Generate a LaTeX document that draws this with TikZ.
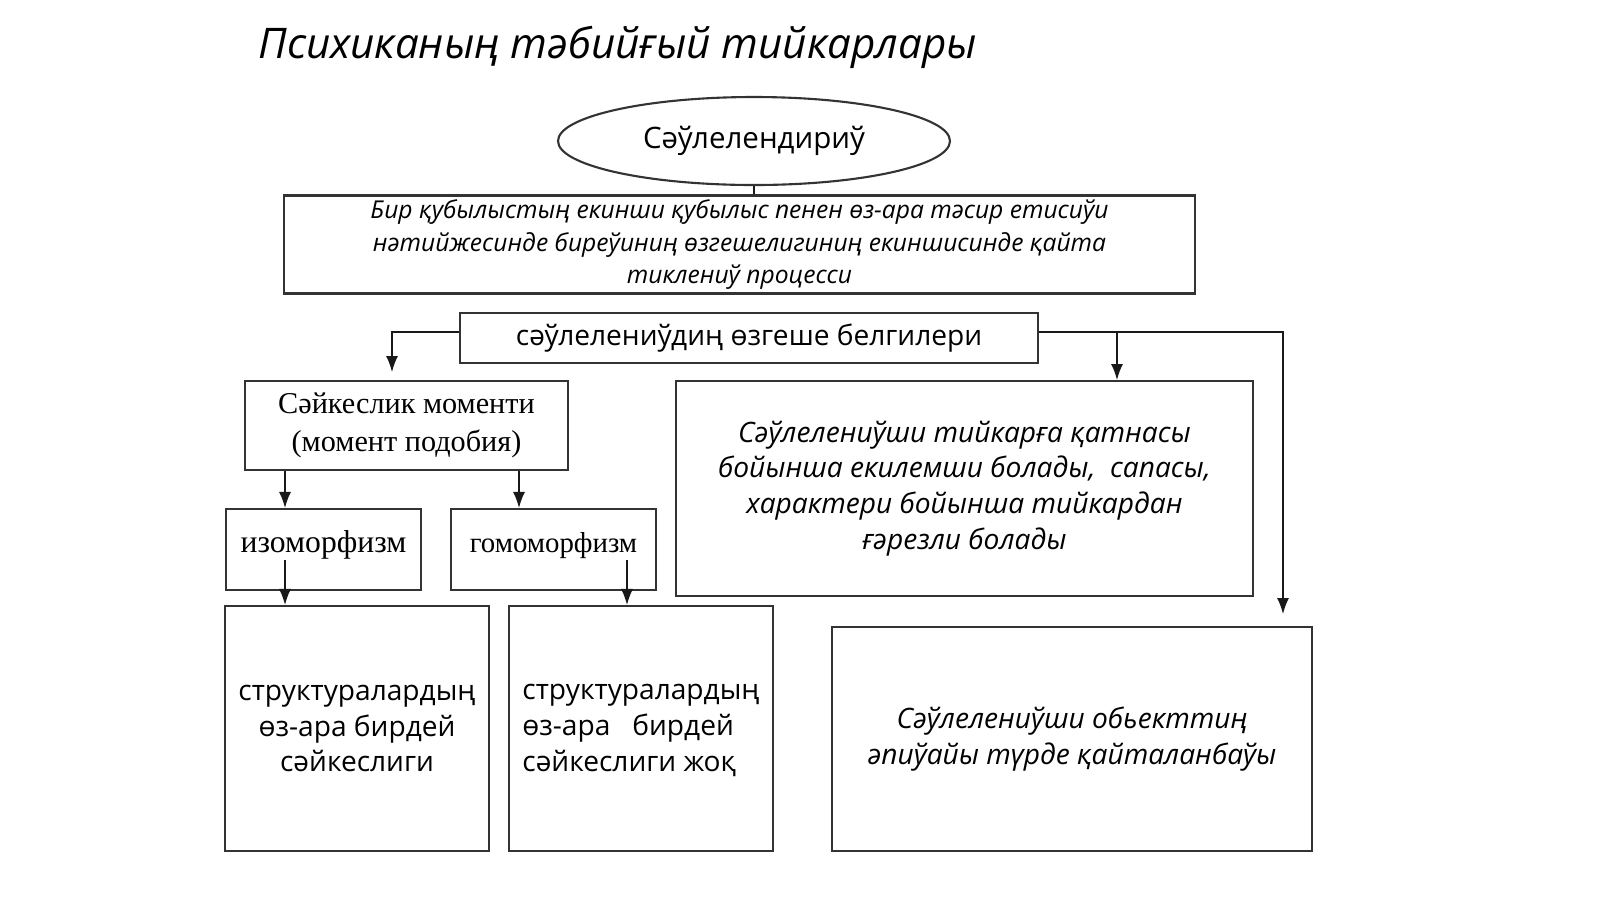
\documentclass[tikz,border=0pt]{standalone}
\usepackage{fontspec}
\setmainfont{Open Sans}
\newfontfamily\serif{Liberation Serif}
\usetikzlibrary{shapes.geometric,arrows.meta}
\tikzset{
  box/.style={draw, semithick, black!80, text=black, rectangle, inner sep=0pt, align=center},
  arr/.style={-{Latex[length=1.6mm,width=1.2mm]}, black!90},
  lin/.style={black!90}
}
\begin{document}
\begin{tikzpicture}[x=0.1mm, y=-0.1mm]
    \useasboundingbox (0,0) rectangle (1600,899);

    \node[anchor=west, font=\fontsize{12}{14}\selectfont\itshape] (title) at (246,47) {Психиканың тәбийғый тийкарлары};

    \node[ellipse, draw, semithick, black!80, text=black, minimum width=39.2mm, minimum height=8.8mm, font=\fontsize{8.4}{10}\selectfont] (ell) at (754,141) {Сәўлелендириў};

    \node[box, minimum width=91.1mm, minimum height=9.7mm, font=\fontsize{7}{9.3}\selectfont\itshape] (def) at (739.5,244.5)
        {\raisebox{-0.8mm}{\begin{tabular}{@{}c@{}}Бир қубылыстың екинши қубылыс пенен өз-ара тәсир етисиўи\\нәтийжесинде биреўиниң өзгешелигиниң екиншисинде қайта\\тиклениў процесси\end{tabular}}};

    \node[box, minimum width=57.8mm, minimum height=5mm, font=\fontsize{8}{10}\selectfont] (sign) at (749,338) {сәўлелениўдиң өзгеше белгилери};

    \node[box, minimum width=32.3mm, minimum height=8.9mm, font=\serif\fontsize{8.6}{11}\selectfont] (mom) at (406.5,425.5) {Сәйкеслик моменти\\(момент подобия)};

    \node[box, minimum width=19.5mm, minimum height=8.1mm, font=\serif\fontsize{9}{11}\selectfont] (iso) at (323.5,549.5) {\raisebox{1.5mm}{изоморфизм}};
    \node[box, minimum width=20.5mm, minimum height=8.1mm, font=\serif\fontsize{8.2}{11}\selectfont] (homo) at (553.5,549.5) {\raisebox{1.5mm}{гомоморфизм}};

    \node[box, minimum width=26.4mm, minimum height=24.5mm, font=\fontsize{8}{10.2}\selectfont] (str1) at (357,728.5) {структуралардың\\өз-ара бирдей\\сәйкеслиги};
    \node[box, minimum width=26.4mm, minimum height=24.5mm, font=\fontsize{8}{10.2}\selectfont] (str2) at (641,728.5) {\begin{tabular}{@{}l@{}}структуралардың\\өз-ара\ \ \ бирдей\\сәйкеслиги жоқ\end{tabular}};

    \node[box, minimum width=57.7mm, minimum height=21.5mm, font=\fontsize{8}{10.2}\selectfont\itshape] (prop) at (964.5,488.5)
        {Сәўлелениўши тийкарға қатнасы\\бойынша екилемши болады,\ \ сапасы,\\характери бойынша тийкардан\\ғәрезли болады};

    \node[box, minimum width=48mm, minimum height=22.4mm, font=\fontsize{8}{10.2}\selectfont\itshape] (rep) at (1072,739)
        {Сәўлелениўши обьекттиң\\әпиўайы түрде қайталанбаўы};

    % connectors
    \draw[lin] (ell.south) -- (ell.south |- def.north);
    \coordinate (l1) at (392,332);
    \coordinate (l2) at (392,372);
    \draw[arr] (sign.west |- l1) -- (l1) -- (l2);
    \coordinate (r1) at (1283,332);
    \coordinate (r2) at (1283,614);
    \draw[arr] (sign.east |- r1) -- (r1) -- (r2);
    \coordinate (m1) at (1117,332);
    \coordinate (m2) at (1117,380);
    \draw[arr] (m1) -- (m2);
    \draw[arr] (mom.south -| 285,0) -- (iso.north -| 285,0);
    \draw[arr] (mom.south -| 519,0) -- (homo.north -| 519,0);
    \coordinate (i1) at (285,560);
    \draw[arr] (i1) -- (str1.north -| i1);
    \coordinate (h1) at (627,560);
    \draw[arr] (h1) -- (str2.north -| h1);
\end{tikzpicture}
\end{document}
